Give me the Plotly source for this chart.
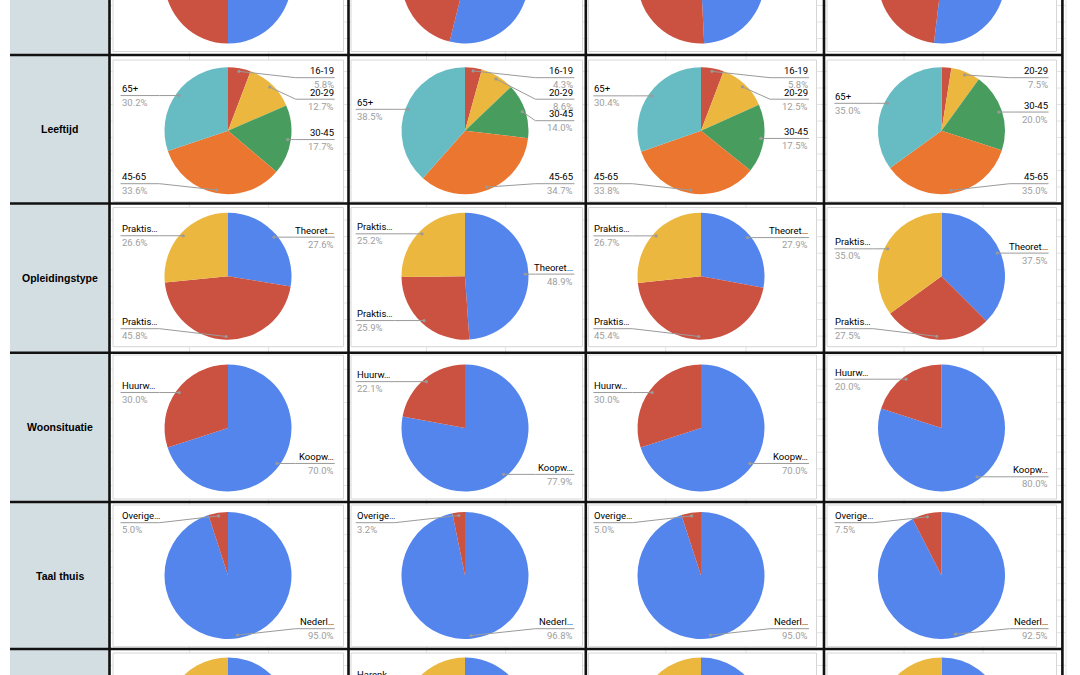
import math
import plotly.graph_objects as go

BLUE, RED, YELLOW = '#5385ec', '#cb5141', '#ebb73f'
GREEN, ORANGE, TEAL = '#489d5e', '#eb7630', '#67bbc3'

# one row of the sheet per question, four groups (columns) per row
# first and last row are cut off by the screenshot
row_titles = ['', 'Leeftijd', 'Opleidingstype', 'Woonsituatie', 'Taal thuis', '']

geslacht_names = ['Vrouw', 'Man']
geslacht_colors = [BLUE, RED]
geslacht_values = [[50.0, 50.0], [53.9, 46.1], [49.2, 50.8], [51.9, 48.1]]

leeftijd_names = ['16-19', '20-29', '30-45', '45-65', '65+']
leeftijd_colors = [RED, YELLOW, GREEN, ORANGE, TEAL]
leeftijd_values = [[5.8, 12.7, 17.7, 33.6, 30.2],
                   [4.3, 8.6, 14.0, 34.7, 38.5],
                   [5.8, 12.5, 17.5, 33.8, 30.4],
                   [2.5, 7.5, 20.0, 35.0, 35.0]]

opleiding_names = ['Theoret…', 'Praktis…', 'Praktis…']
opleiding_colors = [BLUE, RED, YELLOW]
opleiding_values = [[27.6, 45.8, 26.6],
                    [48.9, 25.9, 25.2],
                    [27.9, 45.4, 26.7],
                    [37.5, 27.5, 35.0]]

woon_names = ['Koopw…', 'Huurw…']
woon_colors = [BLUE, RED]
woon_values = [[70.0, 30.0], [77.9, 22.1], [70.0, 30.0], [80.0, 20.0]]

taal_names = ['Nederl…', 'Overige…']
taal_colors = [BLUE, RED]
taal_values = [[95.0, 5.0], [96.8, 3.2], [95.0, 5.0], [92.5, 7.5]]

laatste_names = ['Overig…', 'Anders…', 'Harenk…']
laatste_colors = [BLUE, RED, YELLOW]
laatste_values = [[40.0, 28.0, 32.0], [45.0, 28.0, 27.0],
                  [36.0, 30.0, 34.0], [40.0, 25.0, 35.0]]

rows = [(geslacht_names, geslacht_colors, geslacht_values),
        (leeftijd_names, leeftijd_colors, leeftijd_values),
        (opleiding_names, opleiding_colors, opleiding_values),
        (woon_names, woon_colors, woon_values),
        (taal_names, taal_colors, taal_values),
        (laatste_names, laatste_colors, laatste_values)]

# sheet geometry in screen pixels (page is shifted up by HIDDEN px)
W, H, HIDDEN = 1080, 900, 100
R = 63.5
col_lines = [109.5, 348.5, 585.8, 824, 1062.4]
row_lines = [-93.5, 55, 203.5, 352.7, 502, 649, 797.5]
box_x = [(113, 343.5), (351, 582.5), (588.5, 816.5), (827, 1056.5)]
box_y = [(-89, 51.5), (60, 201.7), (207.5, 346.7), (355, 499), (505, 646.7), (653, 793)]
pie_cx = [228, 465, 701, 941.5]
pie_cy = [-20, 130.7, 276.2, 428, 575.5, 721]
lab_left = [120.5, 355.7, 593.4, 834.4]
lab_right = [334.7, 574.4, 809, 1048.6]
GAP, UL = 21.5, 39


def sx(x):
    return x / W


def sy(y):
    return 1 - (y + HIDDEN) / H


shapes, annotations, data = [], [], []


def rect(x0, y0, x1, y1, fill, line_color=None, layer='below'):
    shapes.append(dict(type='rect', xref='paper', yref='paper', layer=layer,
                       x0=sx(x0), x1=sx(x1), y0=sy(y1), y1=sy(y0), fillcolor=fill,
                       line=dict(color=line_color or fill, width=1 if line_color else 0)))


def line(x0, y0, x1, y1, color, width):
    shapes.append(dict(type='line', xref='paper', yref='paper', layer='below',
                       x0=sx(x0), y0=sy(y0), x1=sx(x1), y1=sy(y1),
                       line=dict(color=color, width=width)))


# faint spreadsheet grid
for x in [189.4, 268.6, 426.6, 505.6, 665.7, 746, 904, 983, 1066]:
    line(x, -100, x, 800, '#e4e4e4', 1)
for i in range(len(row_lines) - 1):
    for k in range(1, 9):
        y = row_lines[i] + k * (row_lines[i + 1] - row_lines[i]) / 9
        line(109.5, y, 1066, y, '#e4e4e4', 1)

rect(10, -100, 109.5, 800, '#d3dee3')
for r in range(len(rows)):
    for c in range(4):
        rect(box_x[c][0], box_y[r][0], box_x[c][1], box_y[r][1], 'white', '#d6d6d6')
for x in col_lines:
    line(x, -100, x, 800, '#111111', 2.6)
for y in row_lines:
    line(10, y, 1062.4, y, '#111111', 2.6)


def add_labels(names, values, c, r):
    cx, cy = pie_cx[c], pie_cy[r]
    top, bottom = box_y[r][0] + 17.7, box_y[r][1] - 18
    total = float(sum(values))
    sides = {'left': [], 'right': []}
    cum = 0.0
    for name, v in zip(names, values):
        a = 2 * math.pi * (cum + v / 2) / total
        cum += v
        if v / total < 0.03:
            continue  # too thin, left unlabeled like in Sheets
        dx, dy = math.sin(a), -math.cos(a)
        item = dict(name=name, pct='%.1f%%' % (100 * v / total),
                    dot=(cx + 0.95 * R * dx, cy + 0.95 * R * dy))
        sides['right' if dx >= 0 else 'left'].append(item)
    for side, items in sides.items():
        items.sort(key=lambda it: it['dot'][1])
        prev = -1e9
        for it in items:
            it['y'] = max(it['dot'][1], top, prev + GAP)
            prev = it['y']
        nxt = 1e9
        for it in reversed(items):
            it['y'] = min(it['y'], bottom, nxt - GAP)
            nxt = it['y']
        for it in items:
            px, py = it['dot']
            y = it['y']
            if side == 'right':
                outer = lab_right[c]
                inner = max(outer - UL, px)
            else:
                outer = lab_left[c]
                inner = min(outer + UL, px)
            path = 'M %f %f L %f %f L %f %f' % (sx(px), sy(py), sx(inner), sy(y), sx(outer), sy(y))
            shapes.append(dict(type='path', xref='paper', yref='paper', layer='above',
                               path=path, line=dict(color='#9a9a9a', width=1)))
            shapes.append(dict(type='circle', xref='paper', yref='paper', layer='above',
                               x0=sx(px - 1.6), x1=sx(px + 1.6), y0=sy(py + 1.6), y1=sy(py - 1.6),
                               fillcolor='#9a9a9a', line=dict(width=0)))
            annotations.append(dict(x=sx(outer), y=sy(y - 0.5), xref='paper', yref='paper',
                                    text=it['name'], showarrow=False, xanchor=side,
                                    yanchor='bottom', borderpad=0,
                                    font=dict(family='Roboto', size=9.5, color='#000000')))
            annotations.append(dict(x=sx(outer), y=sy(y + 0.5), xref='paper', yref='paper',
                                    text=it['pct'], showarrow=False, xanchor=side,
                                    yanchor='top', borderpad=0,
                                    font=dict(family='Roboto', size=9.5, color='#9e9e9e')))


for r, (names, colors, values) in enumerate(rows):
    for c in range(4):
        cx, cy = pie_cx[c], pie_cy[r]
        data.append(go.Pie(values=values[c], labels=list(range(len(values[c]))),
                           marker=dict(colors=colors, line=dict(width=0)),
                           sort=False, direction='clockwise', rotation=0,
                           textinfo='none', hoverinfo='skip', showlegend=False,
                           domain=dict(x=[sx(cx - R), sx(cx + R)], y=[sy(cy + R), sy(cy - R)])))
        add_labels(names, values[c], c, r)
    if row_titles[r]:
        annotations.append(dict(x=sx(59.7), y=sy((row_lines[r] + row_lines[r + 1]) / 2),
                                xref='paper', yref='paper', text=row_titles[r], showarrow=False,
                                xanchor='center', yanchor='middle',
                                font=dict(family='Arial, Liberation Sans', size=10.5,
                                          color='#000000', weight='bold')))

layout = go.Layout(width=W, height=H, margin=dict(l=0, r=0, t=0, b=0),
                   paper_bgcolor='white', plot_bgcolor='white',
                   shapes=shapes, annotations=annotations)

fig = go.Figure(data=data, layout=layout)

# shift the page up so the first row is cut off like in the screenshot
js = ("document.body.style.margin='0';document.body.style.overflow='hidden';"
      "document.getElementById('{plot_id}').style.marginTop='-%dpx';" % HIDDEN)
fig.write_html('out.html', post_script=js, config={'displayModeBar': False})
